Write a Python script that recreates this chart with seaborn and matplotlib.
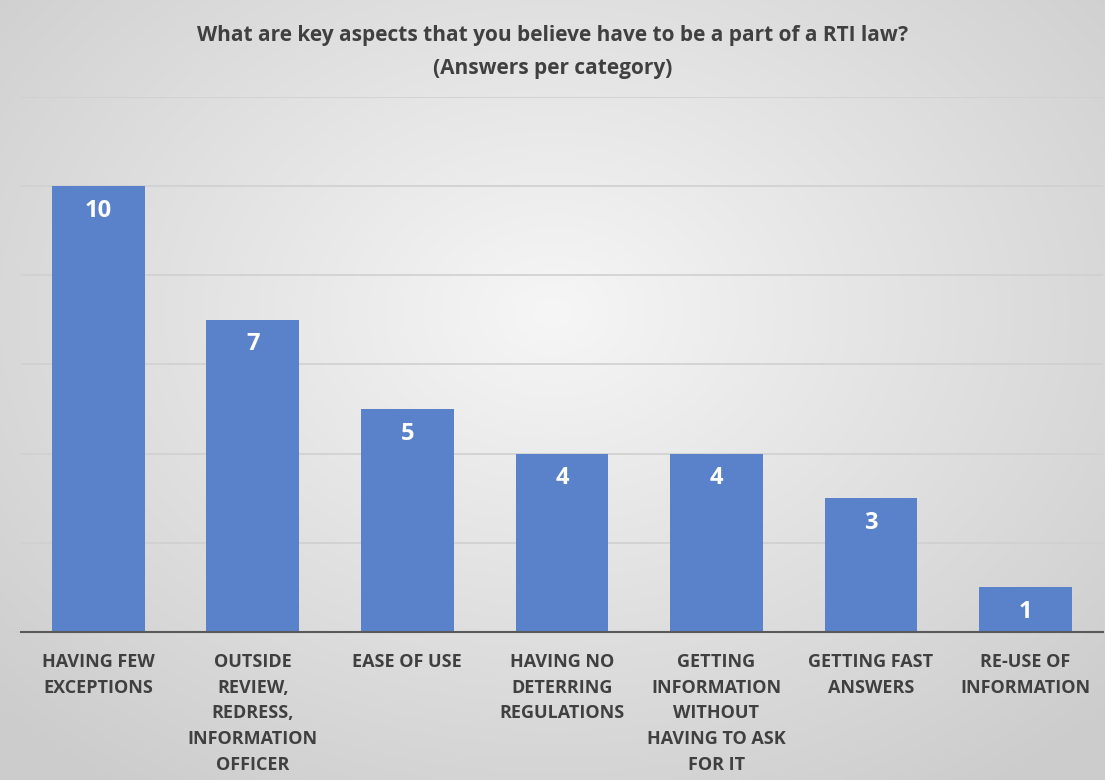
import numpy as np
import pandas as pd
import matplotlib
matplotlib.use("Agg")
import matplotlib.pyplot as plt
import seaborn as sns

categories = [
    "HAVING FEW\nEXCEPTIONS",
    "OUTSIDE\nREVIEW,\nREDRESS,\nINFORMATION\nOFFICER",
    "EASE OF USE",
    "HAVING NO\nDETERRING\nREGULATIONS",
    "GETTING\nINFORMATION\nWITHOUT\nHAVING TO ASK\nFOR IT",
    "GETTING FAST\nANSWERS",
    "RE-USE OF\nINFORMATION",
]
values = [10, 7, 5, 4, 4, 3, 1]
title = "What are key aspects that you believe have to be a part of a RTI law?\n(Answers per category)"

sns.set_theme(style="white")
plt.rcParams["font.family"] = ["Open Sans", "DejaVu Sans"]

fig = plt.figure(figsize=(11.05, 7.8), dpi=100)

# radial gradient background
bg = fig.add_axes([0, 0, 1, 1], zorder=-10)
h, w = 780, 1105
yy, xx = np.mgrid[0:h, 0:w]
cx, cy = w * 0.5, h * 0.40
r = np.sqrt(((xx - cx) / (w * 0.7)) ** 2 + ((yy - cy) / (h * 0.75)) ** 2)
r = np.clip(r, 0, 1)
light = np.array([0.965, 0.965, 0.965])
dark = np.array([0.80, 0.80, 0.80])
img = light[None, None, :] * (1 - r[..., None]) + dark[None, None, :] * r[..., None]
bg.imshow(img, aspect="auto", extent=[0, 1, 0, 1])
bg.set_axis_off()

ax = fig.add_axes([0.019, 0.1897, 0.979, 0.686])
ax.patch.set_alpha(0)
df = pd.DataFrame({"category": categories, "value": values})
sns.barplot(data=df, x="category", y="value", color="#5a82ca", saturation=1,
            width=0.6, ax=ax, zorder=3, edgecolor="none", linewidth=0)
ax.set_ylim(0, 12)
ax.set_yticks(range(0, 13, 2))
ax.yaxis.grid(True, color="#d0d0d0", linewidth=1.2, zorder=0)
ax.set_yticklabels([])
ax.tick_params(axis="y", length=0)
ax.tick_params(axis="x", length=0, pad=15)
for lbl in ax.get_xticklabels():
    lbl.set_fontsize(13)
    lbl.set_fontweight("bold")
    lbl.set_color("#404040")
    lbl.set_verticalalignment("top")
    lbl.set_linespacing(1.55)
ax.set_xlabel("")
ax.set_ylabel("")
for s in ["top", "right", "left"]:
    ax.spines[s].set_visible(False)
ax.spines["bottom"].set_color("#595959")
ax.spines["bottom"].set_linewidth(1.5)
ax.spines["bottom"].set_zorder(4)

for p, v in zip(ax.patches, values):
    ax.text(p.get_x() + p.get_width() / 2, p.get_height() - 0.55, str(v),
            ha="center", va="center", color="white", fontsize=17,
            fontweight="bold", zorder=5)

fig.text(0.5, 0.933, title, ha="center", va="center", fontsize=15,
         fontweight="bold", color="#404040", linespacing=1.75)

fig.savefig("out.png", dpi=100)
